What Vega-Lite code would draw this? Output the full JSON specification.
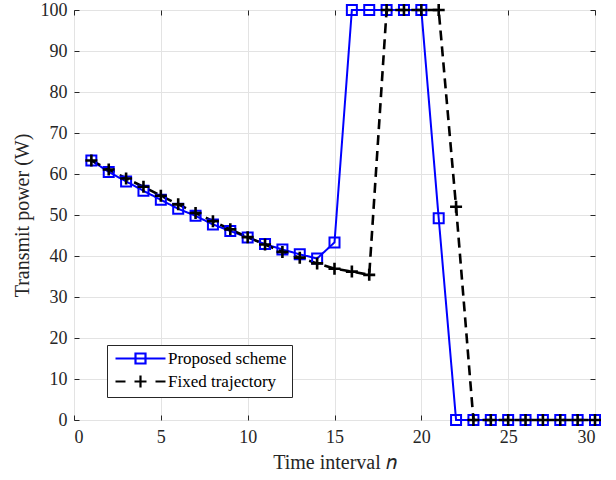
{
  "$schema": "https://vega.github.io/schema/vega-lite/v6.json",
  "width": 521,
  "height": 410,
  "autosize": {"type": "none"},
  "padding": {"left": 74, "top": 10, "right": 21, "bottom": 60},
  "background": "white",
  "config": {
    "font": "Liberation Serif",
    "view": {"stroke": "#262626", "strokeWidth": 1},
    "axis": {
      "labelFont": "Liberation Serif",
      "labelFontSize": 18,
      "labelColor": "#262626",
      "titleFont": "Liberation Serif",
      "titleFontSize": 20,
      "titleFontWeight": "normal",
      "titleColor": "#262626",
      "gridColor": "#e3e3e3",
      "gridWidth": 1,
      "tickColor": "#262626",
      "tickSize": -5,
      "tickWidth": 1,
      "domain": false
    },
    "legend": {
      "labelFont": "Liberation Serif",
      "labelFontSize": 17,
      "labelColor": "#000000"
    }
  },
  "data": {
    "values": [
      {"n": 1, "power": 63.3, "series": "Proposed scheme"},
      {"n": 2, "power": 60.5, "series": "Proposed scheme"},
      {"n": 3, "power": 58.2, "series": "Proposed scheme"},
      {"n": 4, "power": 55.9, "series": "Proposed scheme"},
      {"n": 5, "power": 53.7, "series": "Proposed scheme"},
      {"n": 6, "power": 51.5, "series": "Proposed scheme"},
      {"n": 7, "power": 49.8, "series": "Proposed scheme"},
      {"n": 8, "power": 47.7, "series": "Proposed scheme"},
      {"n": 9, "power": 46.1, "series": "Proposed scheme"},
      {"n": 10, "power": 44.5, "series": "Proposed scheme"},
      {"n": 11, "power": 42.9, "series": "Proposed scheme"},
      {"n": 12, "power": 41.6, "series": "Proposed scheme"},
      {"n": 13, "power": 40.4, "series": "Proposed scheme"},
      {"n": 14, "power": 39.4, "series": "Proposed scheme"},
      {"n": 15, "power": 43.3, "series": "Proposed scheme"},
      {"n": 16, "power": 100, "series": "Proposed scheme"},
      {"n": 17, "power": 100, "series": "Proposed scheme"},
      {"n": 18, "power": 100, "series": "Proposed scheme"},
      {"n": 19, "power": 100, "series": "Proposed scheme"},
      {"n": 20, "power": 100, "series": "Proposed scheme"},
      {"n": 21, "power": 49.2, "series": "Proposed scheme"},
      {"n": 22, "power": 0, "series": "Proposed scheme"},
      {"n": 23, "power": 0, "series": "Proposed scheme"},
      {"n": 24, "power": 0, "series": "Proposed scheme"},
      {"n": 25, "power": 0, "series": "Proposed scheme"},
      {"n": 26, "power": 0, "series": "Proposed scheme"},
      {"n": 27, "power": 0, "series": "Proposed scheme"},
      {"n": 28, "power": 0, "series": "Proposed scheme"},
      {"n": 29, "power": 0, "series": "Proposed scheme"},
      {"n": 30, "power": 0, "series": "Proposed scheme"},
      {"n": 1, "power": 63.3, "series": "Fixed trajectory"},
      {"n": 2, "power": 61.1, "series": "Fixed trajectory"},
      {"n": 3, "power": 58.9, "series": "Fixed trajectory"},
      {"n": 4, "power": 56.9, "series": "Fixed trajectory"},
      {"n": 5, "power": 54.7, "series": "Fixed trajectory"},
      {"n": 6, "power": 52.6, "series": "Fixed trajectory"},
      {"n": 7, "power": 50.5, "series": "Fixed trajectory"},
      {"n": 8, "power": 48.5, "series": "Fixed trajectory"},
      {"n": 9, "power": 46.5, "series": "Fixed trajectory"},
      {"n": 10, "power": 44.6, "series": "Fixed trajectory"},
      {"n": 11, "power": 42.8, "series": "Fixed trajectory"},
      {"n": 12, "power": 41.0, "series": "Fixed trajectory"},
      {"n": 13, "power": 39.6, "series": "Fixed trajectory"},
      {"n": 14, "power": 38.2, "series": "Fixed trajectory"},
      {"n": 15, "power": 36.9, "series": "Fixed trajectory"},
      {"n": 16, "power": 36.2, "series": "Fixed trajectory"},
      {"n": 17, "power": 35.4, "series": "Fixed trajectory"},
      {"n": 18, "power": 100, "series": "Fixed trajectory"},
      {"n": 19, "power": 100, "series": "Fixed trajectory"},
      {"n": 20, "power": 100, "series": "Fixed trajectory"},
      {"n": 21, "power": 100, "series": "Fixed trajectory"},
      {"n": 22, "power": 52.0, "series": "Fixed trajectory"},
      {"n": 23, "power": 0, "series": "Fixed trajectory"},
      {"n": 24, "power": 0, "series": "Fixed trajectory"},
      {"n": 25, "power": 0, "series": "Fixed trajectory"},
      {"n": 26, "power": 0, "series": "Fixed trajectory"},
      {"n": 27, "power": 0, "series": "Fixed trajectory"},
      {"n": 28, "power": 0, "series": "Fixed trajectory"},
      {"n": 29, "power": 0, "series": "Fixed trajectory"},
      {"n": 30, "power": 0, "series": "Fixed trajectory"}
    ]
  },
  "layer": [
    {
      "layer": [
        {
          "mark": {"type": "line"},
          "encoding": {
            "x": {"field": "n", "type": "quantitative", "scale": {"domain": [0, 30], "nice": false},
              "axis": {"values": [0, 5, 10, 15, 20, 25, 30], "title": "Time interval  𝑛", "labelPadding": 13, "titlePadding": 6}},
            "y": {"field": "power", "type": "quantitative", "scale": {"domain": [0, 100], "nice": false},
              "axis": {"values": [0, 10, 20, 30, 40, 50, 60, 70, 80, 90, 100], "title": "Transmit power (W)", "labelPadding": 12, "titlePadding": 8}},
            "color": {"field": "series", "type": "nominal",
              "scale": {"domain": ["Proposed scheme", "Fixed trajectory"], "range": ["#0000ff", "#000000"]},
              "legend": null},
            "strokeDash": {"field": "series", "type": "nominal",
              "scale": {"domain": ["Proposed scheme", "Fixed trajectory"], "range": [[1, 0], [10, 6]]},
              "legend": null},
            "strokeWidth": {"field": "series", "type": "nominal",
              "scale": {"domain": ["Proposed scheme", "Fixed trajectory"], "range": [2, 2.6]},
              "legend": null}
          }
        },
        {
          "mark": {"type": "point", "filled": false, "opacity": 1},
          "encoding": {
            "x": {"field": "n", "type": "quantitative"},
            "y": {"field": "power", "type": "quantitative"},
            "color": {"field": "series", "type": "nominal", "legend": null},
            "shape": {"field": "series", "type": "nominal",
              "scale": {"domain": ["Proposed scheme", "Fixed trajectory"], "range": ["square", "M-1,0L1,0M0,-1L0,1"]},
              "legend": null},
            "size": {"field": "series", "type": "nominal",
              "scale": {"domain": ["Proposed scheme", "Fixed trajectory"], "range": [100, 144]},
              "legend": null},
            "strokeWidth": {"field": "series", "type": "nominal", "legend": null}
          }
        }
      ]
    },
    {
      "mark": {"type": "point", "opacity": 0, "filled": false, "strokeWidth": 2.2},
      "encoding": {
        "x": {"field": "n", "type": "quantitative", "scale": {"domain": [0, 30], "nice": false},
          "axis": {"orient": "top", "values": [0, 5, 10, 15, 20, 25, 30], "labels": false, "title": null, "grid": false}},
        "y": {"field": "power", "type": "quantitative", "scale": {"domain": [0, 100], "nice": false},
          "axis": {"orient": "right", "values": [0, 10, 20, 30, 40, 50, 60, 70, 80, 90, 100], "labels": false, "title": null, "grid": false}},
        "color": {"field": "series", "type": "nominal",
          "scale": {"domain": ["Proposed scheme", "Fixed trajectory"], "range": ["#0000ff", "#000000"]},
          "legend": {
            "title": null,
            "orient": "none",
            "legendX": 33,
            "legendY": 335,
            "fillColor": "white",
            "strokeColor": "#262626",
            "padding": 5,
            "rowPadding": 3,
            "symbolSize": 100,
            "symbolOpacity": 1,
            "symbolStrokeWidth": 2.2,
            "labelOffset": 39
          }},
        "shape": {"field": "series", "type": "nominal",
          "scale": {"domain": ["Proposed scheme", "Fixed trajectory"], "range": ["M-1,0L9,0M3,-1L5,-1L5,1L3,1Z", "M-1,0L1,0M2.8,0L5.2,0M4,-1.2L4,1.2M7,0L9,0"]},
          "legend": {
            "title": null,
            "orient": "none",
            "legendX": 33,
            "legendY": 335,
            "fillColor": "white",
            "strokeColor": "#262626",
            "padding": 5,
            "rowPadding": 3,
            "symbolSize": 100,
            "symbolOpacity": 1,
            "symbolStrokeWidth": 2.2,
            "labelOffset": 39
          }}
      }
    }
  ],
  "resolve": {"scale": {"x": "independent", "y": "independent", "shape": "independent", "color": "independent"}}
}
